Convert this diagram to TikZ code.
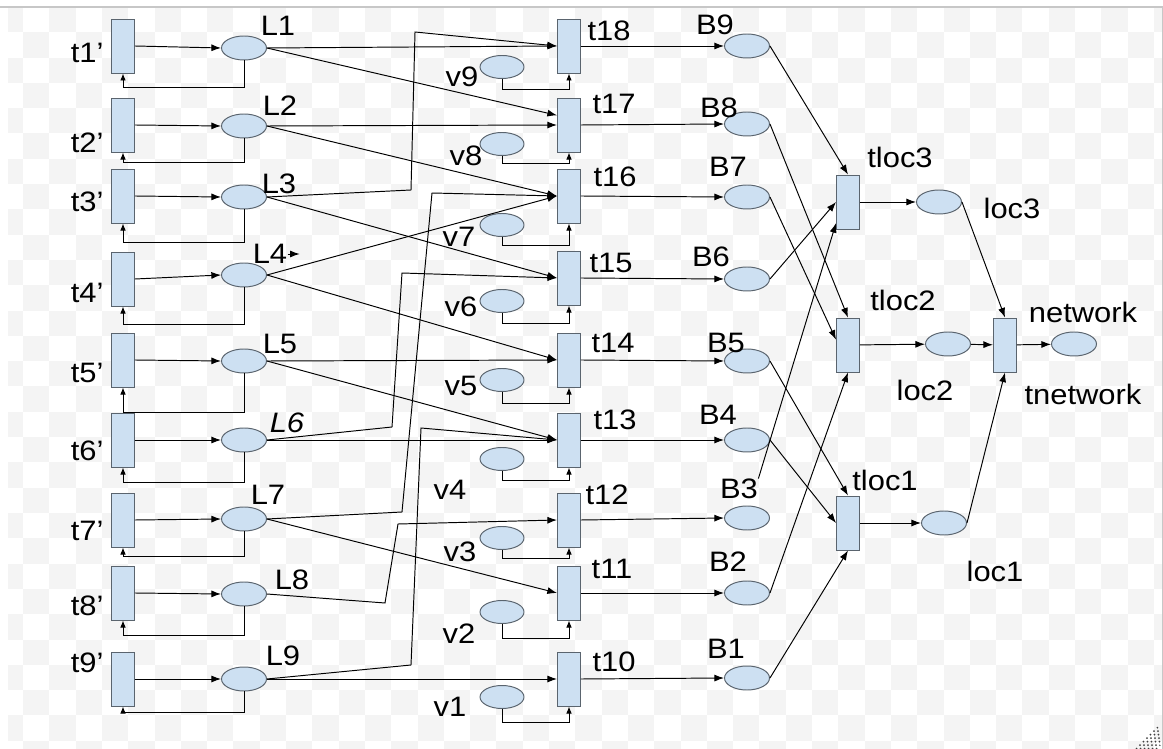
\documentclass[tikz,border=0pt]{standalone}
\usepackage{fontspec}
\setmainfont{Liberation Sans}[FakeStretch=1.1]
\usetikzlibrary{shapes.geometric,arrows.meta}
\definecolor{petri}{RGB}{205,224,242}
\definecolor{rim}{RGB}{90,100,110}
\definecolor{chk}{RGB}{244,244,244}
\begin{document}
\begin{tikzpicture}[x=0.02cm, y=-0.02cm, line width=0.55pt, >={Latex[length=5.5pt,width=4pt]},
  tr/.style={rectangle, draw=rim, fill=petri, minimum width=0.46cm, minimum height=1.08cm, inner sep=0pt},
  pl/.style={ellipse, draw=rim, fill=petri, minimum width=0.9cm, minimum height=0.48cm, inner sep=0pt},
  lb/.style={inner sep=0pt, font=\fontsize{16}{18}\selectfont},
  fb/.style={-{Latex[length=4pt,width=3.2pt]}}]

\useasboundingbox (0,0) rectangle (1163,749);
\fill[white] (0,0) rectangle (1163,749);
\begin{scope}
\clip (8,7) rectangle (1162,749);
\foreach \c in {0,...,44}
\foreach \r in {0,...,29}
{
	\pgfmathtruncatemacro{\odd}{mod(\c+\r,2)}
	\ifnum\odd=0 \fill[chk] (\c*26.3-3.3,\r*25.3+7) rectangle ++(26.3,25.3); \fi
}
\end{scope}
\draw[black!22, line width=1pt] (0,7) -- (1163,7);
\draw[black!22] (1162,7) -- (1162,749);
\foreach \k in {1,...,6}
{
	\draw[black!75, dotted, line width=0.8pt] (1160-4*\k,749) -- (1160,749-4*\k);
}

\foreach \i/\ty/\tly/\ly/\fy in {1/46/53/48/87, 2/125/143/126/162, 3/196/202/197/242, 4/279/293/275/324, 5/360/373/361/412, 6/440/451/440/482, 7/520/531/519/556, 8/593/606/594/635, 9/679/663/679/712}
{
	\node (tp\i)[tr] at (123,\ty) {};
	\node (ltp\i)[lb, anchor=east] at (104,\tly) {t\i’};
	\node (L\i)[pl] at (244,\ly) {};
	\draw[->] (tp\i.east) -- (L\i.west);
	\draw[fb] (L\i.south) -- (L\i.south |- 0,\fy) -| (tp\i.south);
}
\foreach \i/\lx/\lly/\ltext in {1/278/26/L1, 2/280/106/L2, 3/279/184/L3, 4/270/254/L4, 5/280/344/L5, 6/287/423/\textit{L6}, 7/268/495/L7, 8/292/580/L8, 9/283/656/L9}
{
	\node (lL\i)[lb] at (\lx,\lly) {\ltext};
}
\draw[->] (lL4.east) -- ++(12,0);

\foreach \m/\y/\tx/\tly/\vy/\vlx/\vly/\fy/\by/\blx/\bly in {9/46/609/31/67/462/77/89/46/715/25, 8/125/614/104/144/466/156/163/124/719/108, 7/196/615/177/225/459/237/245/197/728/167, 6/278/611/263/301/461/307/323/279/711/257, 5/360/613/343/380/461/386/403/361/726/343, 4/440/615/420/459/450/490/480/440/718/415, 3/520/607/495/538/460/552/558/518/739/489, 2/593/612/569/612/459/634/638/593/728/562, 1/679/614/662/697/450/707/722/678/726/649}
{
	\pgfmathtruncatemacro{\k}{\m+9}
	\node (t\k)[tr] at (569,\y) {};
	\node (lt\k)[lb] at (\tx,\tly) {t\k};
	\node (v\m)[pl, minimum width=0.88cm, minimum height=0.46cm] at (502,\vy) {};
	\node (lv\m)[lb] at (\vlx,\vly) {v\m};
	\node (B\m)[pl] at (747,\by) {};
	\node (lB\m)[lb] at (\blx,\bly) {B\m};
	\draw[->] (t\k.east) -- (B\m.west);
	\draw[fb] (v\m.south) -- (v\m.south |- 0,\fy) -| (t\k.south);
}

\draw[->] (L1.east) -- (t18.west);
\draw[->] (L1.east) -- ([yshift=5.5pt]t17.west);
\draw[->] (L2.east) -- (t17.west);
\draw[->] (L2.east) -- (t16.west);
\draw[->] (L3.east) -- (411,190) -- (415,32) -- (t18.west);
\draw[->] (L3.east) -- (t15.west);
\draw[->] (L4.east) -- (t16.west);
\draw[->] (L4.east) -- (t14.west);
\draw[->] (L5.east) -- (t14.west);
\draw[->] (L5.east) -- (t13.west);
\draw[->] (L6.east) -- (392,427) -- (402,273) -- (t15.west);
\draw[->] (L6.east) -- (t13.west);
\draw[->] (L7.east) -- (402,512) -- (432,193) -- (t16.west);
\draw[->] (L7.east) -- (t11.west);
\draw[->] (L8.east) -- (385,603) -- (398,524) -- (t12.west);
\draw[->] (L9.east) -- (411,665) -- (421,428) -- (t13.west);
\draw[->] (L9.east) -- (t10.west);

\node (tloc3)[tr] at (848,202) {};
\node (tloc2)[tr] at (848,345) {};
\node (tloc1)[tr] at (848,523) {};
\node (tnet)[tr] at (1005,345) {};
\node (loc3)[pl] at (939,202) {};
\node (loc2)[pl] at (948,344) {};
\node (loc1)[pl] at (944,523) {};
\node (network)[pl] at (1074,344) {};
\node (ltloc3)[lb] at (900,157) {tloc3};
\node (lloc3)[lb] at (1012,208) {loc3};
\node (ltloc2)[lb] at (903,300) {tloc2};
\node (lloc2)[lb] at (925,390) {loc2};
\node (ltloc1)[lb] at (885,480) {tloc1};
\node (lloc1)[lb] at (995,571) {loc1};
\node (lnetwork)[lb] at (1083,312) {network};
\node (ltnet)[lb] at (1083,394) {tnetwork};

\draw[->] (B9.east) -- (tloc3.north);
\draw[->] (B8.east) -- (tloc2.north);
\draw[->] (B7.east) -- ([yshift=3pt]tloc2.west);
\draw[->] (B6.east) -- (tloc3.west);
\draw[->] (lB3.north east) -- ([yshift=-12pt]tloc3.west);
\draw[->] (B5.east) -- (tloc1.north);
\draw[->] (B4.east) -- (tloc1.west);
\draw[->] (B2.east) -- (tloc2.south);
\draw[->] (B1.east) -- (tloc1.south);
\draw[->] (tloc3) -- (loc3);
\draw[->] (tloc2) -- (loc2);
\draw[->] (tloc1) -- (loc1);
\draw[->] (loc3.east) -- (tnet.north);
\draw[->] (loc2) -- (tnet);
\draw[->] (loc1.east) -- (tnet.south);
\draw[->] (tnet) -- (network);
\end{tikzpicture}
\end{document}
